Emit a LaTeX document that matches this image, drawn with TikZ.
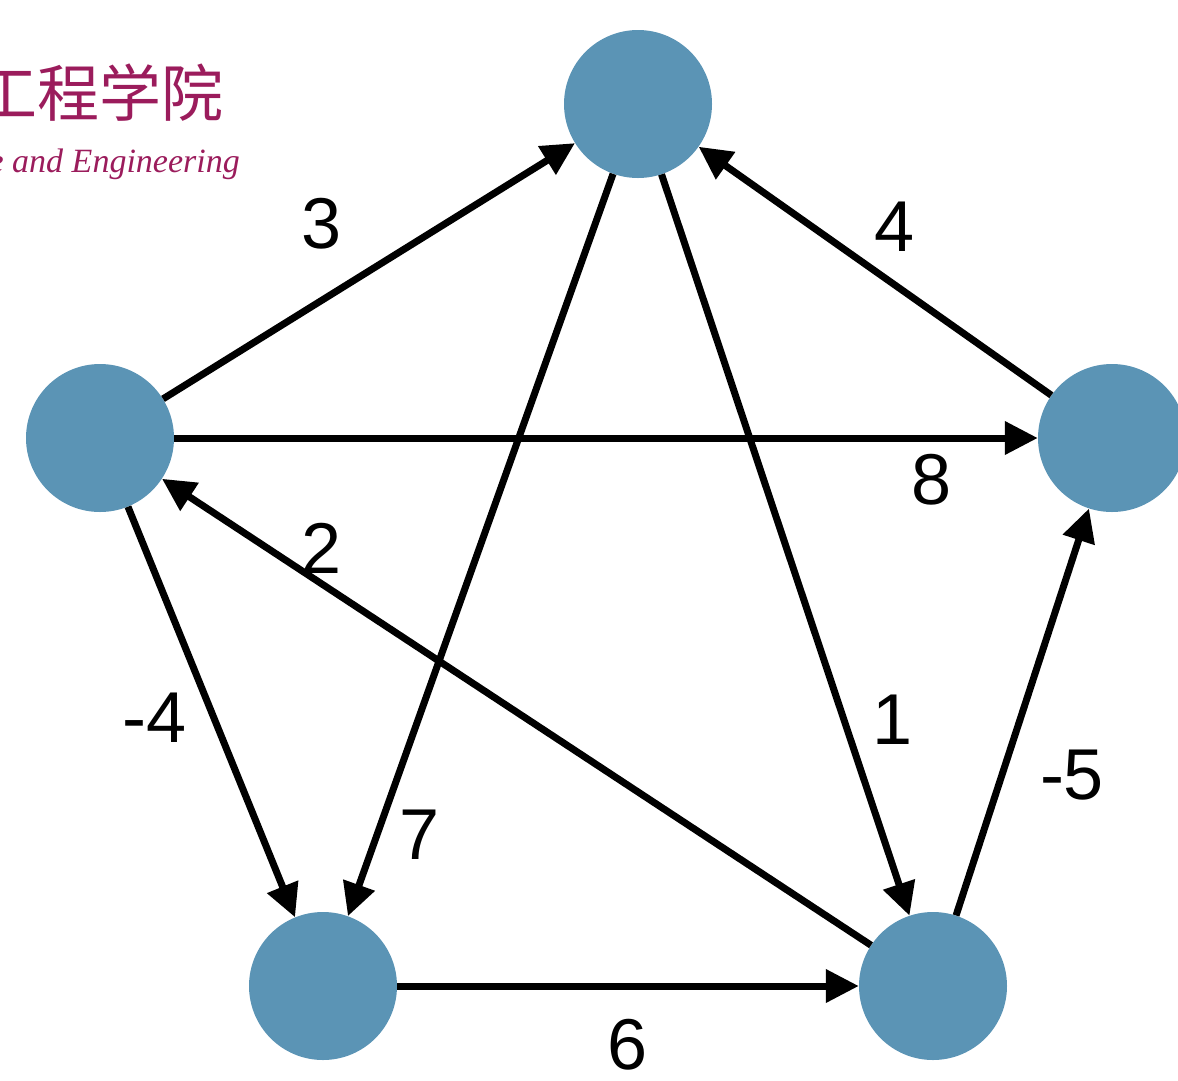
\documentclass[tikz,border=0pt]{standalone}
\usepackage{fontspec}
\setmainfont{Liberation Sans}
\newfontfamily\cjkfont{Noto Sans CJK SC}
\newfontfamily\logoserif{Liberation Serif}
\usetikzlibrary{arrows.meta}
\definecolor{nodeblue}{RGB}{91,148,181}
\definecolor{logored}{RGB}{155,28,92}
\tikzset{
  vtx/.style={circle, fill=nodeblue, draw=none, minimum size=148pt, inner sep=0pt},
  arr/.style={line width=7pt, -{Triangle[length=33pt,width=32pt]}},
  wlabel/.style={font=\fontsize{72}{80}\selectfont, inner sep=0pt},
}
\begin{document}
\begin{tikzpicture}[x=1pt,y=-1pt]
\useasboundingbox (0,0) rectangle (1178,1080);
% logo fragment
\node[anchor=base east, text=logored, font=\cjkfont\fontsize{62}{70}\selectfont, inner sep=0pt] (logocn) at (224,116) {工程学院};
\node[anchor=base east, text=logored, font=\logoserif\itshape\fontsize{34}{40}\selectfont, inner sep=0pt] (logoen) at (240,172) {ce and Engineering};
% vertices
\node[vtx] (T) at (638,104) {};
\node[vtx] (L) at (100,438) {};
\node[vtx] (R) at (1112,438) {};
\node[vtx] (BL) at (323,986) {};
\node[vtx] (BR) at (933,986) {};
% edges
\draw[arr] (L) -- (T);
\draw[arr] (T) -- (BL);
\draw[arr] (T) -- (BR);
\draw[arr] (R) -- (T);
\draw[arr] (L) -- (R);
\draw[arr] (BR) -- (L);
\draw[arr] (L) -- (BL);
\draw[arr] (BL) -- (BR);
\draw[arr] (BR) -- (R);
% weights
\node[wlabel] (w3) at (322,224) {3};
\node[wlabel] (w4) at (895,227) {4};
\node[wlabel] (w8) at (932,480) {8};
\node[wlabel] (w2) at (322,548) {2};
\node[wlabel] (wm4) at (155,718) {-4};
\node[wlabel] (w1) at (893,720) {1};
\node[wlabel] (wm5) at (1072,775) {-5};
\node[wlabel] (w7) at (420,835) {7};
\node[wlabel] (w6) at (628,1045) {6};
\end{tikzpicture}
\end{document}
